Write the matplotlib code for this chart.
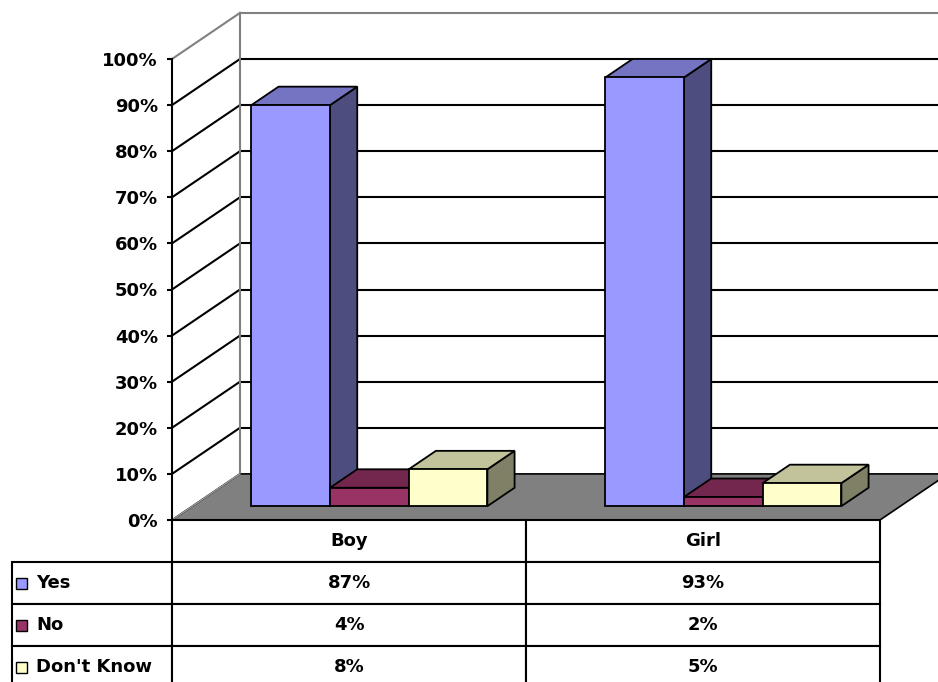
import matplotlib.pyplot as plt
import matplotlib.colors as mcolors
from matplotlib.patches import Polygon, Rectangle
from matplotlib.table import Table
from matplotlib.ticker import PercentFormatter

categories = ["Boy", "Girl"]
series = ["Yes", "No", "Don't Know"]
yes = [87, 93]
no = [4, 2]
dont_know = [8, 5]
yticks = list(range(0, 101, 10))

values = [yes, no, dont_know]
colors = ["#9999FF", "#993366", "#FFFFCC"]

plt.rcParams["font.family"] = ["DejaVu Sans"]
plt.rcParams["font.weight"] = "bold"
plt.rcParams["font.size"] = 13


def shade(c, k):
    r, g, b = mcolors.to_rgb(c)
    return (r * k, g * k, b * k)


# oblique offset of the full floor depth (x in category units, y in %)
DX, DY = 0.192, 10.0
bar_w = 1 / 4.5          # 3 bars + 150% gap per category
f0, f1 = 0.3, 0.7        # bar front / back depth


def proj(x, y, f):
    return (x + f * DX, y + f * DY)


W, H = 938, 682
fig = plt.figure(figsize=(W / 100, H / 100), dpi=100)
ax = fig.add_axes([172 / W, 162 / H, 708 / W, 461 / H])
ax.set_xlim(0, len(categories))
ax.set_ylim(0, 100)
ax.patch.set_visible(False)
for s in ["top", "right", "bottom"]:
    ax.spines[s].set_visible(False)
ax.spines["left"].set_linewidth(1.5)
ax.spines["left"].set_zorder(6)
ax.set_xticks([])
ax.set_yticks(yticks)
ax.yaxis.set_major_formatter(PercentFormatter(decimals=0))
ax.tick_params(axis="y", length=3.6, width=1.5, pad=6.5, labelsize=13)

xmax = len(categories)
gray = "#808080"

# walls and gridlines
for v in yticks:
    c = gray if v in (0, 100) else "black"
    lw = 1.0 if v == 0 else 1.5
    p, q = proj(0, v, 0), proj(0, v, 1)
    ax.plot([p[0], q[0]], [p[1], q[1]], color=c, lw=lw, clip_on=False, zorder=1)
    if v > 0:
        r = proj(xmax, v, 1)
        ax.plot([q[0], r[0]], [q[1], r[1]], color=c, lw=1.5, clip_on=False, zorder=1)
p, q = proj(0, 0, 1), proj(0, 100, 1)
ax.plot([p[0], q[0]], [p[1], q[1]], color=gray, lw=1.5, clip_on=False, zorder=1)

# floor
floor = Polygon([proj(0, 0, 0), proj(xmax, 0, 0), proj(xmax, 0, 1), proj(0, 0, 1)],
                closed=True, fc=gray, ec="black", lw=1.2, clip_on=False, zorder=2)
ax.add_patch(floor)
p, q = proj(0, 0, 0), proj(0, 0, 1)
ax.plot([p[0], q[0]], [p[1], q[1]], color="#a0a0a0", lw=1.0, clip_on=False, zorder=2.5)

# 3-D bars, drawn left to right so each front face covers the side before it
for i in range(len(categories)):
    for j, vals in enumerate(values):
        x0 = i + 0.5 - 1.5 * bar_w + j * bar_w
        x1 = x0 + bar_w
        h = vals[i]
        col = colors[j]
        faces = [
            ([proj(x1, 0, f0), proj(x1, 0, f1), proj(x1, h, f1), proj(x1, h, f0)], shade(col, 0.5)),
            ([proj(x0, h, f0), proj(x1, h, f0), proj(x1, h, f1), proj(x0, h, f1)], shade(col, 0.76)),
            ([proj(x0, 0, f0), proj(x1, 0, f0), proj(x1, h, f0), proj(x0, h, f0)], col),
        ]
        for pts, fc in faces:
            ax.add_patch(Polygon(pts, closed=True, fc=fc, ec="black", lw=1.3,
                                 joinstyle="miter", clip_on=False, zorder=3))

# data table under the plot
label_w, col_w, row_h = 160, 354, 42
n_rows = len(series) + 1
tbl_w = label_w + col_w * len(categories)
tbl = Table(ax, bbox=[-label_w / 708, -row_h * n_rows / 461,
                      tbl_w / 708, row_h * n_rows / 461])
for c, name in enumerate(categories):
    tbl.add_cell(0, c + 1, width=col_w, height=row_h, text=name, loc="center")
for r, name in enumerate(series):
    cell = tbl.add_cell(r + 1, 0, width=label_w, height=row_h, text=name, loc="left")
    cell.PAD = 24 / label_w
    for c in range(len(categories)):
        tbl.add_cell(r + 1, c + 1, width=col_w, height=row_h,
                     text=f"{values[r][c]}%", loc="center")
tbl.auto_set_font_size(False)
tbl.set_fontsize(13)
for cell in tbl.get_celld().values():
    cell.set_linewidth(1.5)
    cell.set_edgecolor("black")
    cell.get_text().set_fontweight("bold")
tbl.set_zorder(5)
ax.add_table(tbl)

# legend keys inside the row labels
for r, col in enumerate(colors):
    yc = -row_h * (r + 1.5) / 461
    ax.add_patch(Rectangle(((16 - 172) / 708, yc - 5.5 / 461), 11 / 708, 11 / 461,
                           transform=ax.transAxes, fc=col, ec="black", lw=1.0,
                           clip_on=False, zorder=6))

fig.savefig("out.png", dpi=100)
